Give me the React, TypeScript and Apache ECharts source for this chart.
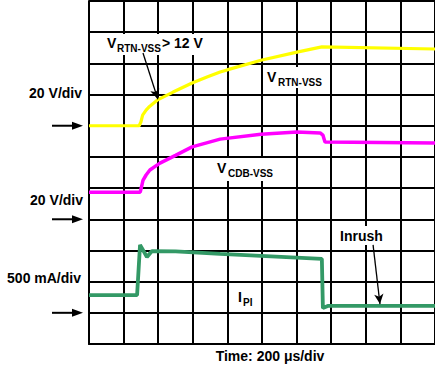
import React, { useEffect, useRef } from "react";
import * as echarts from "echarts";

// x in microseconds (200 µs/div), y in screen divisions from bottom
const xTicks = { min: 0, max: 2000, interval: 200 };
const yTicks = { min: 0, max: 11, interval: 1 };

const vrtnData: [number, number][] = [
  [0, 7.0], [290, 7.0], [300, 7.12], [310, 7.34], [330, 7.5], [350, 7.62],
  [394, 7.82], [486, 8.08], [596, 8.37], [682, 8.56], [758, 8.72], [798, 8.79],
  [994, 9.1], [1202, 9.36], [1346, 9.53], [2000, 9.46],
];

const vcdbData: [number, number][] = [
  [0, 4.87], [296, 4.87], [304, 5.05], [312, 5.25], [330, 5.42], [352, 5.58],
  [410, 5.8], [500, 6.05], [596, 6.32], [758, 6.57], [994, 6.73], [1202, 6.8],
  [1336, 6.77], [1352, 6.7], [1364, 6.48], [2000, 6.45],
];

const ipiData: [number, number][] = [
  [0, 1.57], [278, 1.57], [295, 3.18], [335, 2.79], [364, 2.98], [500, 2.97],
  [758, 2.89], [1346, 2.73], [1352, 1.15], [1380, 1.22], [2000, 1.22],
];

const groundLevels = [7, 4, 1];
const scaleLabels = ["20 V/div", "20 V/div", "500 mA/div"];
const timeLabel = "Time: 200 μs/div";

const arrowVrtn: [number, number][] = [[312, 9.33], [398, 7.85]];
const arrowInrush: [number, number][] = [[1642, 3.18], [1682, 1.28]];

const FONT = "Liberation Sans, Arial, Helvetica, sans-serif";

export default function App() {
  const ref = useRef<HTMLDivElement>(null);
  useEffect(() => {
    document.body.style.margin = "0";
    if (!ref.current) return;
    const chart = echarts.init(ref.current, undefined, { renderer: "svg" });
    const arrowML = (pts: [number, number][]) => ({
      silent: true,
      symbol: ["none", "arrow"],
      symbolSize: [7, 10],
      label: { show: false },
      lineStyle: { color: "#000", width: 1.3, type: "solid" },
      data: [[{ coord: pts[0] }, { coord: pts[1] }]],
    });
    chart.setOption({
      animation: false,
      backgroundColor: "#fff",
      grid: { left: 89, top: 1, right: 0, bottom: 24 },
      xAxis: {
        type: "value",
        ...xTicks,
        axisLine: { show: true, lineStyle: { color: "#000", width: 2 } },
        axisTick: { show: false },
        axisLabel: { show: false },
        splitLine: { show: true, lineStyle: { color: "#000", width: 2 } },
      },
      yAxis: {
        type: "value",
        ...yTicks,
        axisLine: { show: true, lineStyle: { color: "#000", width: 2 } },
        axisTick: { show: false },
        axisLabel: { show: false },
        splitLine: { show: true, lineStyle: { color: "#000", width: 2 } },
      },
      series: [
        {
          type: "line", data: vrtnData, symbol: "none",
          lineStyle: { color: "#ffff00", width: 3.2 },
          markLine: arrowML(arrowVrtn),
        },
        {
          type: "line", data: vcdbData, symbol: "none",
          lineStyle: { color: "#ff00ff", width: 3.5 },
        },
        {
          type: "line", data: ipiData, symbol: "none",
          lineStyle: { color: "#339966", width: 3.8 },
          markLine: arrowML(arrowInrush),
        },
      ],
    });

    const graphics: any[] = [];
    const labelYs = [93, 200, 278];
    const labelRights = [82, 83, 81];
    groundLevels.forEach((g, i) => {
      const p = chart.convertToPixel({ gridIndex: 0 }, [0, g]) as number[];
      const y = p[1];
      graphics.push({
        type: "line", z: 5,
        shape: { x1: 52, y1: y, x2: 75, y2: y },
        style: { stroke: "#000", lineWidth: 2 },
      });
      graphics.push({
        type: "polygon", z: 5,
        shape: { points: [[72, y - 4], [83, y], [72, y + 4]] },
        style: { fill: "#000" },
      });
      graphics.push({
        type: "text", z: 5, x: labelRights[i], y: labelYs[i],
        style: {
          text: scaleLabels[i], font: `bold 14px ${FONT}`, fill: "#000",
          align: "right", verticalAlign: "middle",
        },
      });
    });
    graphics.push({
      type: "text", z: 5, x: 270, y: 356,
      style: { text: timeLabel, font: `bold 14px ${FONT}`, fill: "#000", align: "center", verticalAlign: "middle" },
    });
    const boxes = [
      [101, 34, 105, 21],
      [264, 67, 62, 21],
      [214, 158, 63, 23],
      [234, 287, 24, 22],
      [336, 226, 52, 19],
    ];
    boxes.forEach((b) =>
      graphics.push({ type: "rect", z: 1, shape: { x: b[0], y: b[1], width: b[2], height: b[3] }, style: { fill: "#fff" } })
    );
    const txt = (x: number, y: number, t: string, size: number) => ({
      type: "text", z: 6, x, y,
      style: { text: t, font: `bold ${size}px ${FONT}`, fill: "#000", align: "left", verticalAlign: "middle" },
    });
    graphics.push(txt(107, 43, "V", 14));
    graphics.push(txt(117, 48, "RTN-VSS", 10));
    graphics.push(txt(162, 43, "> 12 V", 14));
    graphics.push(txt(267, 76.5, "V", 14));
    graphics.push(txt(278, 82, "RTN-VSS", 10));
    graphics.push(txt(217, 168, "V", 14));
    graphics.push(txt(228, 173, "CDB-VSS", 10));
    graphics.push(txt(238, 297, "I", 14));
    graphics.push(txt(243, 302, "PI", 10));
    graphics.push(txt(340, 236, "Inrush", 14));
    chart.setOption({ graphic: graphics });
    return () => chart.dispose();
  }, []);
  return <div ref={ref} style={{ width: 435, height: 368 }} />;
}
